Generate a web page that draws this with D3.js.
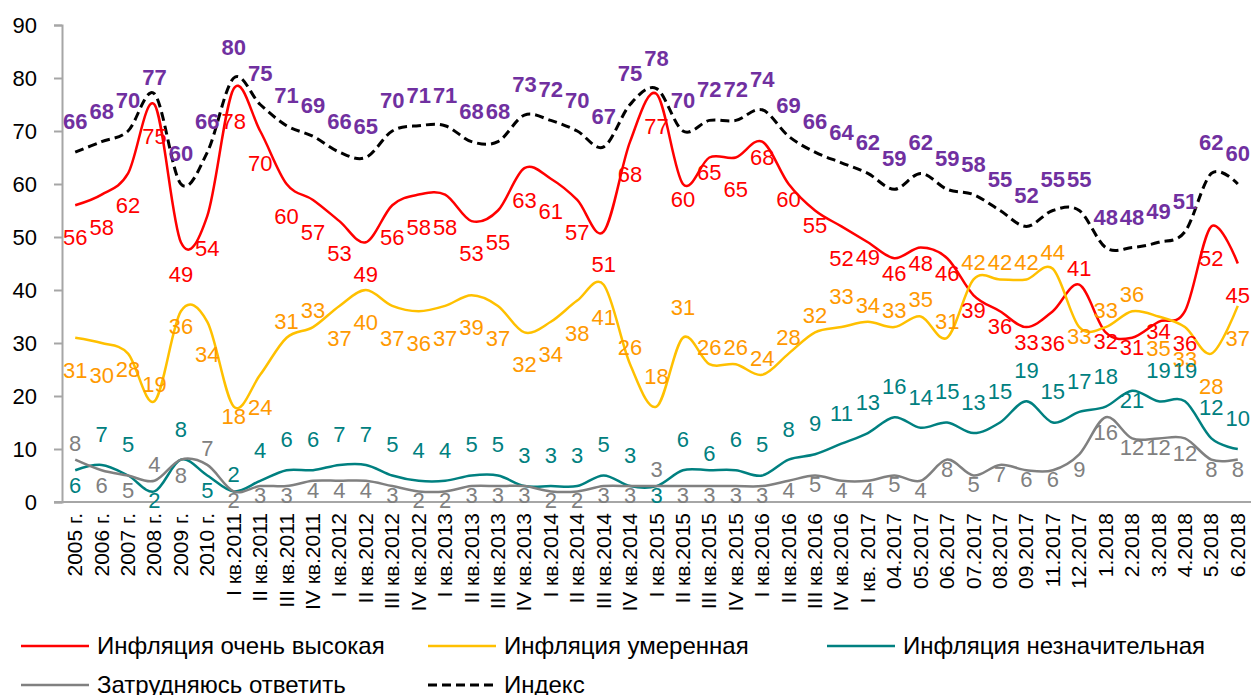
<!DOCTYPE html>
<html>
<head>
<meta charset="utf-8">
<script src="https://cdn.jsdelivr.net/npm/d3@7"></script>
<style>
  body { margin: 0; background: #fff; }
  svg { display: block; font-family: "Liberation Sans", Arial, sans-serif; }
</style>
</head>
<body>
<svg width="1251" height="695"></svg>
<script>
var categories = ["2005 г.","2006 г.","2007 г.","2008 г.","2009 г.","2010 г.",
  "I кв.2011","II кв.2011","III кв.2011","IV кв.2011",
  "I кв.2012","II кв.2012","III кв.2012","IV кв.2012",
  "I кв.2013","II кв.2013","III кв.2013","IV кв.2013",
  "I кв.2014","II кв.2014","III кв.2014","IV кв.2014",
  "I кв.2015","II кв.2015","III кв.2015","IV кв.2015",
  "I кв.2016","II кв.2016","III кв.2016","IV кв.2016",
  "I кв. 2017","04.2017","05.2017","06.2017","07.2017","08.2017","09.2017","11.2017","12.2017",
  "1.2018","2.2018","3.2018","4.2018","5.2018","6.2018"]

var veryHigh = [56,58,62,75,49,54,78,70,60,57,53,49,56,58,58,53,55,63,61,57,51,68,77,60,65,65,68,60,55,52,49,46,48,46,39,36,33,36,41,32,31,34,36,52,45]
var moderate = [31,30,28,19,36,34,18,24,31,33,37,40,37,36,37,39,37,32,34,38,41,26,18,31,26,26,24,28,32,33,34,33,35,31,42,42,42,44,33,33,36,35,33,28,37]
var minor    = [6,7,5,2,8,5,2,4,6,6,7,7,5,4,4,5,5,3,3,3,5,3,3,6,6,6,5,8,9,11,13,16,14,15,13,15,19,15,17,18,21,19,19,12,10]
var hardToSay = [8,6,5,4,8,7,2,3,3,4,4,4,3,2,2,3,3,3,2,2,3,3,3,3,3,3,3,4,5,4,4,5,4,8,5,7,6,6,9,16,12,12,12,8,8]
var indexVals = [66,68,70,77,60,66,80,75,71,69,66,65,70,71,71,68,68,73,72,70,67,75,78,70,72,72,74,69,66,64,62,59,62,59,58,55,52,55,55,48,48,49,51,62,60]

var yTicks = [0,10,20,30,40,50,60,70,80,90]

// label placement per point: A far above, a above, c just below, b below, B far below
var placeDy = {A: -31, a: -17, c: 9, b: 15, B: 32}

var series = [
  {name: "Инфляция очень высокая", values: veryHigh, color: "#FF0000", labelColor: "#FF0000",
   place: "BBBBBBBBBBBBBBBBBBBBBBB" + "bbBbbbBbbbbbbbBacccBBB"},
  {name: "Инфляция умеренная", values: moderate, color: "#FFC000", labelColor: "#FF9900",
   place: "BBbabBcBaa" + "BBBBBBBBBBB" + "aAAaaaaaAaaaaaaaacaaBBBB"},
  {name: "Инфляция незначительная", values: minor, color: "#008080", labelColor: "#008080",
   place: "bAAcAba" + "AAAAAAAAAAAAAAA" + "cAa" + "AAAAAAAAAAAAAAA" + "cAAAA"},
  {name: "Затрудняюсь ответить", values: hardToSay, color: "#808080", labelColor: "#808080",
   place: "abbaba" + "cccccccccccccccc" + "a" + "ccccccccccccccc" + "bbccbcc"},
  {name: "Индекс", values: indexVals, color: "#000000", labelColor: "#7030A0", dashed: true, bold: true,
   place: "AAAa" + "A".repeat(41)}
]

var svg = d3.select("svg")
var m = {left: 62, right: 1251, top: 25, bottom: 502}

var x = d3.scaleBand().domain(categories).range([m.left, m.right]).padding(0)
var cx = d => x(d) + x.bandwidth() / 2
var y = d3.scaleLinear().domain([0, 90]).range([m.bottom, m.top])

// y axis
var yAxis = svg.append("g").attr("transform", `translate(${m.left},0)`)
  .call(d3.axisLeft(y).tickValues(yTicks).tickSize(8).tickPadding(17))
yAxis.select(".domain").attr("stroke", "#A6A6A6").attr("stroke-width", 2)
yAxis.selectAll(".tick line").attr("stroke", "#A6A6A6").attr("stroke-width", 2)
yAxis.selectAll("text").attr("font-size", 22).attr("fill", "#000")
  .attr("font-family", "'Liberation Sans', Arial, sans-serif")

// x axis
var xAxis = svg.append("g").attr("transform", `translate(0,${m.bottom})`)
  .call(d3.axisBottom(x).tickSize(0).tickPadding(0))
xAxis.select(".domain").attr("d", `M${m.left - 8},0H${m.right}`).attr("stroke", "#A6A6A6").attr("stroke-width", 2)
xAxis.selectAll("text")
  .attr("font-size", 21).attr("fill", "#000")
  .attr("font-family", "'Liberation Sans', Arial, sans-serif")
  .attr("text-anchor", "end")
  .attr("transform", "translate(7,11) rotate(-90)")
  .attr("dy", 0).attr("x", 0).attr("y", 0)

var line = d3.line().x((d, i) => cx(categories[i])).y(d => y(d)).curve(d3.curveCardinal)

svg.append("g").selectAll("path")
  .data(series)
  .join("path")
  .attr("d", d => line(d.values))
  .attr("fill", "none")
  .attr("stroke", d => d.color)
  .attr("stroke-width", d => d.dashed ? 3 : 2.5)
  .attr("stroke-dasharray", d => d.dashed ? "9,5" : null)

// data labels
series.forEach(s => {
  svg.append("g")
    .attr("font-size", 22)
    .attr("font-weight", s.bold ? "bold" : null)
    .attr("fill", s.labelColor)
    .attr("text-anchor", "middle")
    .selectAll("text")
    .data(s.values)
    .join("text")
    .attr("x", (d, i) => cx(categories[i]))
    .attr("y", (d, i) => y(d) + placeDy[s.place[i]])
    .attr("dy", "0.36em")
    .text(d => d)
})

// legend
var legendPos = [[21, 646], [428, 646], [827, 646], [21, 685], [428, 685]]
var legend = svg.append("g").selectAll("g")
  .data(series)
  .join("g")
  .attr("transform", (d, i) => `translate(${legendPos[i][0]},${legendPos[i][1]})`)
legend.append("line")
  .attr("x1", 0).attr("x2", 68)
  .attr("stroke", d => d.color)
  .attr("stroke-width", d => d.dashed ? 3 : 2.5)
  .attr("stroke-dasharray", d => d.dashed ? "9,5" : null)
legend.append("text")
  .attr("x", 76).attr("dy", "0.35em")
  .attr("font-size", 24)
  .attr("fill", "#000")
  .text(d => d.name)
</script>
</body>
</html>
